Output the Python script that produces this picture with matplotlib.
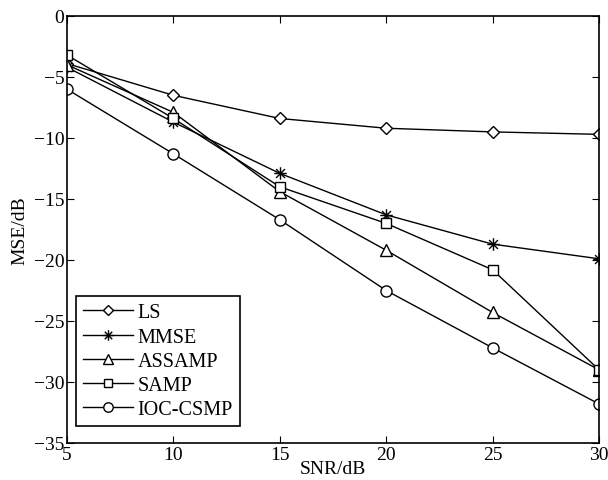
import matplotlib
matplotlib.use("Agg")
import matplotlib.pyplot as plt
from matplotlib.path import Path

snr = [5, 10, 15, 20, 25, 30]
ls = [-3.9, -6.5, -8.4, -9.2, -9.5, -9.7]
mmse = [-4.2, -8.7, -12.9, -16.3, -18.7, -19.9]
assamp = [-4.0, -7.9, -14.4, -19.2, -24.3, -29.0]
samp = [-3.2, -8.4, -14.0, -17.0, -20.8, -29.0]
ioc = [-6.0, -11.3, -16.7, -22.5, -27.2, -31.8]

# asterisk marker (MATLAB-style '*')
d = 0.7071
ast = Path([(0, -1), (0, 1), (-1, 0), (1, 0), (-d, -d), (d, d), (-d, d), (d, -d)],
           [Path.MOVETO, Path.LINETO] * 4)

series = [("LS", ls, "D", 6.5), ("MMSE", mmse, ast, 9), ("ASSAMP", assamp, "^", 8.5),
          ("SAMP", samp, "s", 7.5), ("IOC-CSMP", ioc, "o", 8)]

plt.rcParams['font.family'] = ['Liberation Serif', 'DejaVu Serif']

fig = plt.figure(figsize=(6.08, 4.81), dpi=100)
L, R, T, B = 67, 599, 17, 444
ax = fig.add_axes([L/608, 1-B/481, (R-L)/608, (B-T)/481])

for name, vals, m, ms in series:
    ax.plot(snr, vals, color='black', lw=1.0, marker=m, ms=ms,
            mfc='white', mec='black', mew=1.0, label=name)

ax.set_xlim(5, 30)
ax.set_ylim(-35, 0)
ax.set_xticks([5, 10, 15, 20, 25, 30])
ax.set_yticks([0, -5, -10, -15, -20, -25, -30, -35])
ax.tick_params(direction='in', top=True, right=True, labelsize=14, length=5, width=0.8, pad=2)
ax.set_xlabel("SNR/dB", fontsize=14, labelpad=-2)
ax.set_ylabel("MSE/dB", fontsize=14, labelpad=4)
for s in ax.spines.values():
    s.set_linewidth(1.2)

leg = ax.legend(loc='lower left', bbox_to_anchor=(9/(R-L), 17/(B-T)), borderaxespad=0,
                fontsize=14.5, frameon=True, fancybox=False, markerscale=0.85,
                edgecolor='black', framealpha=1,
                handlelength=2.5, labelspacing=0.25, borderpad=0.35, handletextpad=0.2)
leg.get_frame().set_linewidth(1.2)

fig.savefig("out.png", dpi=100)
